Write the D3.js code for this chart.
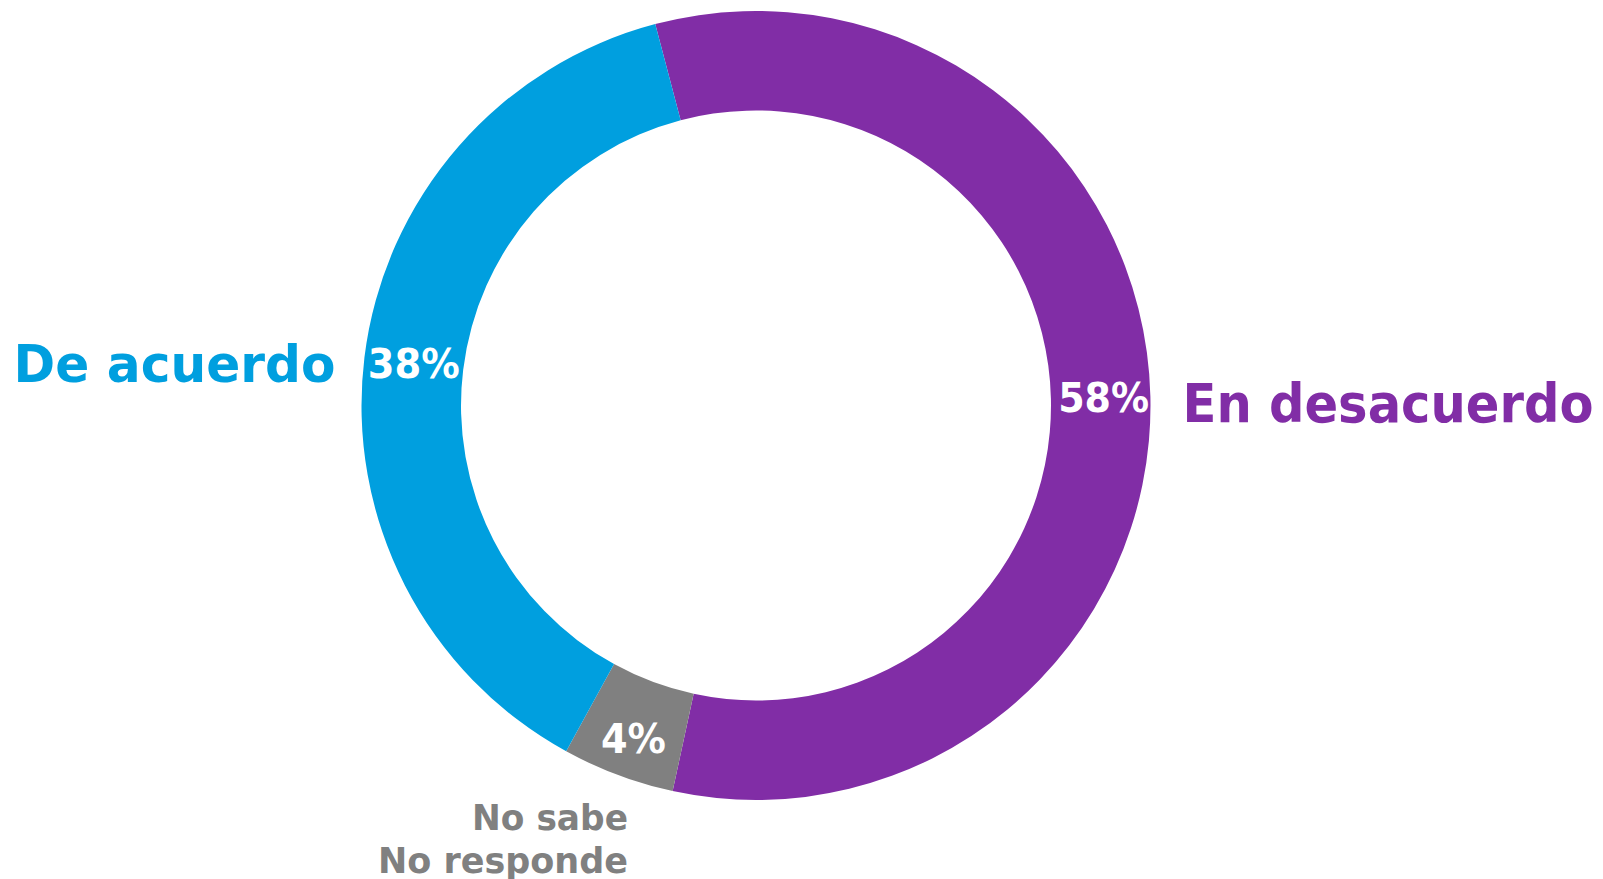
<!DOCTYPE html>
<html>
<head>
<meta charset="utf-8">
<script src="https://cdn.jsdelivr.net/npm/d3@7"></script>
<style>
  html, body { margin: 0; padding: 0; background: #ffffff; }
  svg { display: block; }
  text { font-family: "DejaVu Sans", "Liberation Sans", sans-serif; font-weight: bold; }
</style>
</head>
<body>
<svg id="chart" width="1603" height="879"></svg>
<script>
// Data
const categories = ["En desacuerdo", "No sabe / No responde", "De acuerdo"];
const values = [57.5, 4.6, 37.9];
const percentLabels = ["58%", "4%", "38%"];
const colors = ["#812da6", "#808080", "#009fdf"];

const W = 1603, H = 879;
const cx = 756, cy = 405.5;
const outerR = 394.5, innerR = 295;
const startDeg = -14.8;

const svg = d3.select("#chart");
const g = svg.append("g").attr("transform", `translate(${cx},${cy})`);

const pie = d3.pie().sort(null)
  .startAngle(startDeg * Math.PI / 180)
  .endAngle((startDeg + 360) * Math.PI / 180);
const arc = d3.arc().innerRadius(innerR).outerRadius(outerR);
const arcs = pie(values);

g.selectAll("path.slice").data(arcs).enter().append("path")
  .attr("class", "slice")
  .attr("d", arc)
  .attr("fill", (d, i) => colors[i]);

// percent labels near centroid (layout nudges)
const pctWidths = [91, 65, 92];
const pctNudge = [[3, 0], [-2, 10], [0, 0]];
g.selectAll("text.pct").data(arcs).enter().append("text")
  .attr("class", "pct")
  .attr("x", (d, i) => arc.centroid(d)[0] + pctNudge[i][0])
  .attr("y", (d, i) => arc.centroid(d)[1] + pctNudge[i][1])
  .attr("dy", "0.36em")
  .attr("text-anchor", "middle")
  .attr("fill", "#ffffff")
  .attr("font-size", 41)
  .attr("textLength", (d, i) => pctWidths[i])
  .attr("lengthAdjust", "spacingAndGlyphs")
  .text((d, i) => percentLabels[i]);

// outer category labels
// En desacuerdo (right) — smaller font, stretched vertically to keep cap height
const rightFs = 47;
g.append("text")
  .attr("transform", `translate(${outerR + 32},16) scale(1,${52.5 / rightFs})`)
  .attr("x", 0)
  .attr("y", 0)
  .attr("text-anchor", "start")
  .attr("fill", colors[0])
  .attr("font-size", rightFs)
  .attr("textLength", 411)
  .attr("lengthAdjust", "spacingAndGlyphs")
  .text(categories[0]);

// De acuerdo (left)
g.append("text")
  .attr("x", -outerR - 26)
  .attr("y", -24)
  .attr("text-anchor", "end")
  .attr("fill", colors[2])
  .attr("font-size", 51.7)
  .attr("textLength", 322)
  .attr("lengthAdjust", "spacingAndGlyphs")
  .text(categories[2]);

// No sabe / No responde (bottom)
const nsLines = categories[1].split(" / ");
const nsWidths = [156, 250];
nsLines.forEach((t, i) => {
  g.append("text")
    .attr("x", -128)
    .attr("y", 424 + i * 43)
    .attr("text-anchor", "end")
    .attr("fill", colors[1])
    .attr("font-size", 34.7)
    .attr("textLength", nsWidths[i])
    .attr("lengthAdjust", "spacingAndGlyphs")
    .text(t);
});
</script>
</body>
</html>
